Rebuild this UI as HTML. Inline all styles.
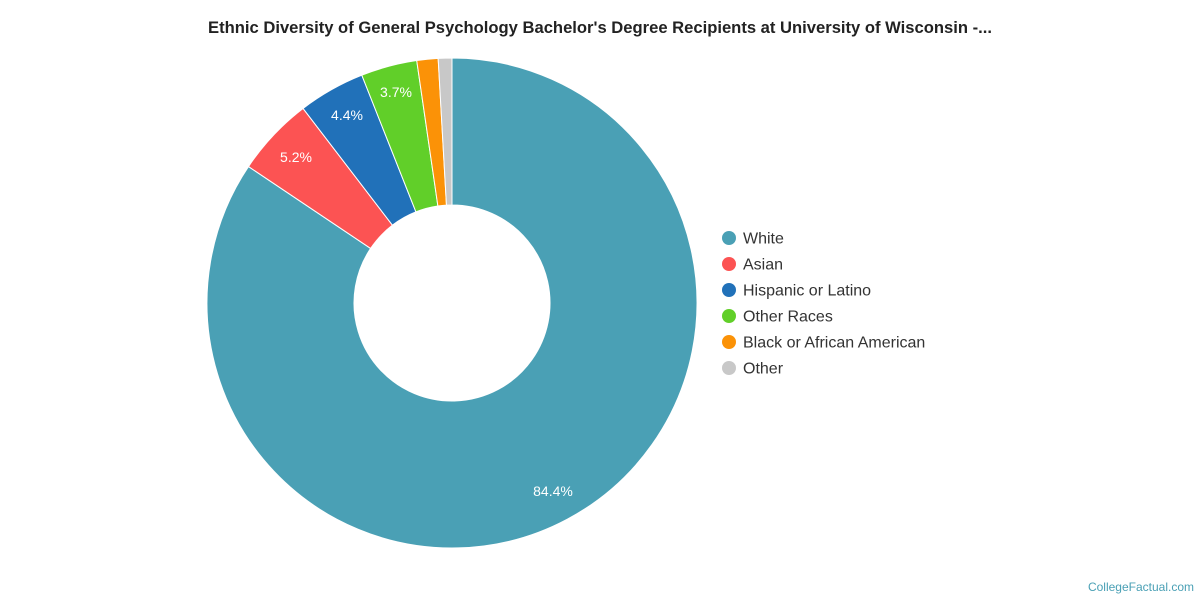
<!DOCTYPE html>
<html><head><meta charset="utf-8"><style>
html,body{margin:0;padding:0;background:#fff;width:1200px;height:600px;overflow:hidden}
</style></head><body>
<svg id="s" width="1200" height="600" xmlns="http://www.w3.org/2000/svg" font-family="Liberation Sans, sans-serif">
<text x="600" y="33" text-anchor="middle" font-size="16.6" font-weight="bold" fill="#222">Ethnic Diversity of General Psychology Bachelor's Degree Recipients at University of Wisconsin -...</text>
<g id="pie"></g>
<g font-size="14" fill="#fff">
<text x="553" y="496" text-anchor="middle">84.4%</text>
<text x="296" y="162" text-anchor="middle">5.2%</text>
<text x="347" y="120" text-anchor="middle">4.4%</text>
<text x="396" y="97" text-anchor="middle">3.7%</text>
</g>
<g font-size="16" fill="#333">
<circle cx="729" cy="238" r="7" fill="#4aa0b5"/><text x="743" y="243.5">White</text>
<circle cx="729" cy="264" r="7" fill="#fc5353"/><text x="743" y="269.5">Asian</text>
<circle cx="729" cy="290" r="7" fill="#2171b9"/><text x="743" y="295.5">Hispanic or Latino</text>
<circle cx="729" cy="316" r="7" fill="#61cf29"/><text x="743" y="321.5">Other Races</text>
<circle cx="729" cy="342" r="7" fill="#fb9207"/><text x="743" y="347.5">Black or African American</text>
<circle cx="729" cy="368" r="7" fill="#c8c8c8"/><text x="743" y="373.5">Other</text>
</g>
<text x="1194" y="591" text-anchor="end" font-size="12" fill="#4aa0b5">CollegeFactual.com</text>
</svg>
<script>
var d=[[84.4,"#4aa0b5"],[5.2,"#fc5353"],[4.4,"#2171b9"],[3.7,"#61cf29"],[1.4,"#fb9207"],[0.9,"#c8c8c8"]];
var cx=452,cy=303,R=245,r=98,a=-Math.PI/2,g=document.getElementById("pie"),h="";
function p(rad,ang){return (cx+rad*Math.cos(ang)).toFixed(2)+" "+(cy+rad*Math.sin(ang)).toFixed(2);}
d.forEach(function(e){var b=a+e[0]/100*2*Math.PI,l=(b-a)>Math.PI?1:0;
h+='<path d="M'+p(R,a)+' A'+R+' '+R+' 0 '+l+' 1 '+p(R,b)+' L'+p(r,b)+' A'+r+' '+r+' 0 '+l+' 0 '+p(r,a)+' Z" fill="'+e[1]+'" stroke="#fff" stroke-width="1"/>';a=b;});
g.innerHTML=h;
</script>
</body></html>
